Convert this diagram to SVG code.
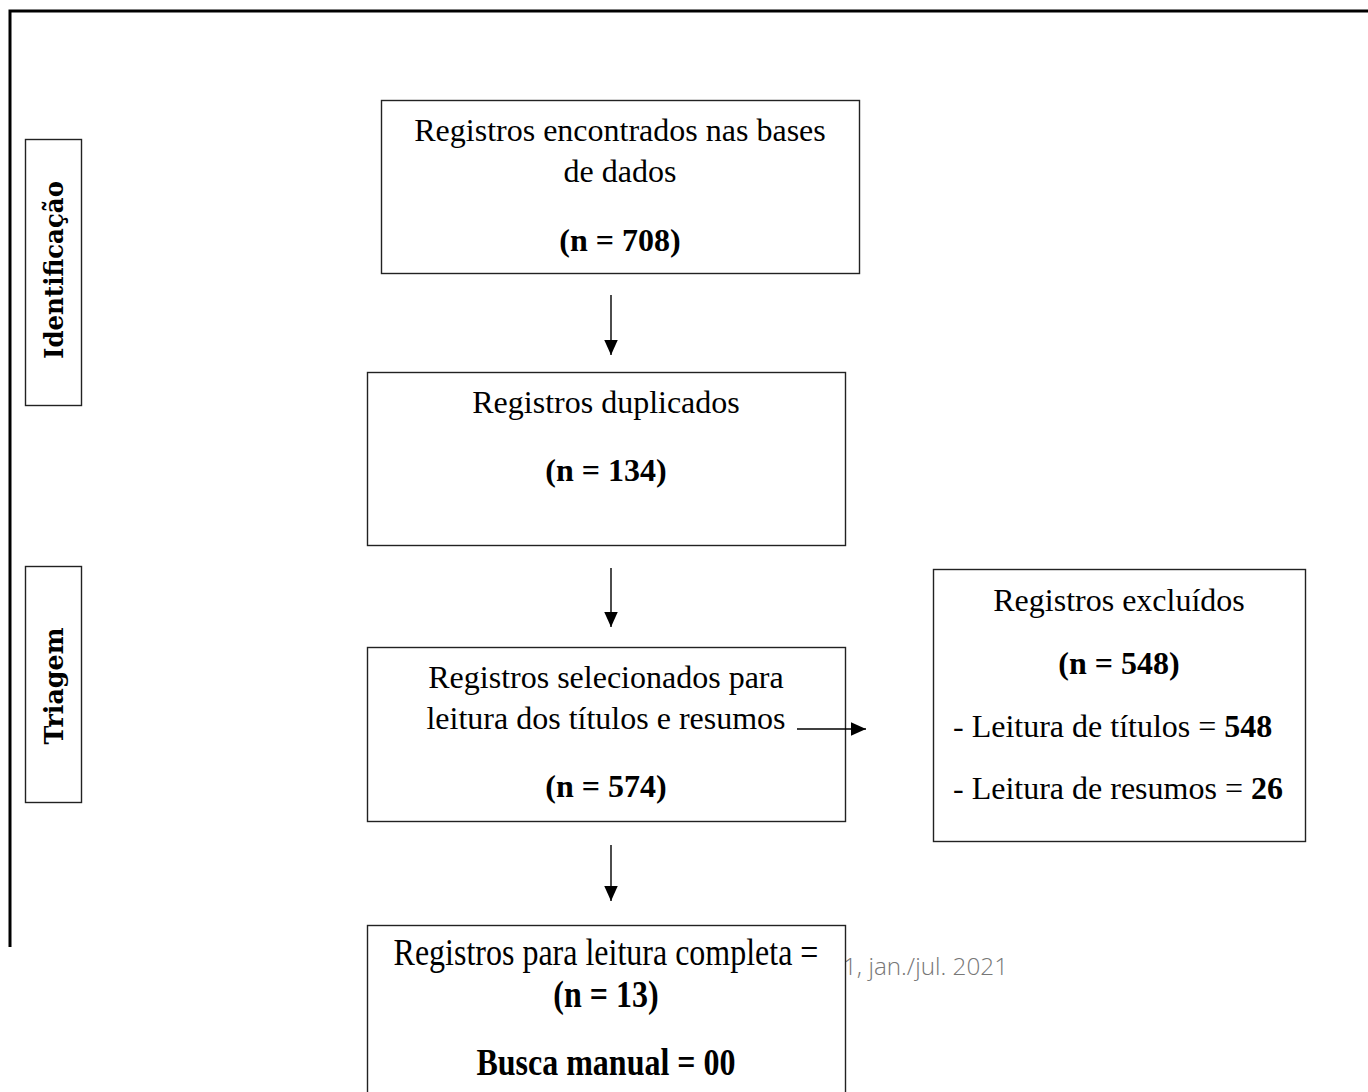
<svg xmlns="http://www.w3.org/2000/svg" width="1368" height="1092" viewBox="0 0 1368 1092">
<defs>
<style>
.box{fill:#fff;stroke:#222;stroke-width:1.4}
.t{font-family:"Liberation Serif","Times New Roman",serif;font-size:32px;fill:#000;text-anchor:middle}
.l{font-family:"Liberation Serif","Times New Roman",serif;font-size:32px;fill:#000}
.b{font-weight:bold}
.side{font-family:"DejaVu Serif",serif;font-weight:bold;font-size:26px;fill:#000;text-anchor:middle}
.conn{stroke:#000;stroke-width:1.4;fill:none}
</style>
<marker id="ah" viewBox="0 0 10 10" refX="10" refY="5" markerWidth="15" markerHeight="15" markerUnits="userSpaceOnUse" orient="auto">
<path d="M0,0.5 L10,5 L0,9.5 Z" fill="#000"/>
</marker>
</defs>
<rect width="1368" height="1092" fill="#fff"/>
<path d="M10,947 V11 H1368" fill="none" stroke="#000" stroke-width="3"/>
<text x="843" y="975" font-family="Open Sans, sans-serif" font-weight="300" font-size="23" fill="#777" textLength="165" lengthAdjust="spacingAndGlyphs">1, jan./jul. 2021</text>
<g id="identificacao">
<rect class="box" x="25.5" y="139.5" width="56" height="266"/>
<text class="side" transform="translate(63,270) rotate(-90)" textLength="178" lengthAdjust="spacingAndGlyphs">Identificação</text>
</g>
<g id="triagem">
<rect class="box" x="25.5" y="566.5" width="56" height="236"/>
<text class="side" transform="translate(63,686) rotate(-90)" textLength="117" lengthAdjust="spacingAndGlyphs">Triagem</text>
</g>
<g id="registros-encontrados">
<rect class="box" x="381.5" y="100.5" width="478" height="173"/>
<text class="t" x="620" y="141">Registros encontrados nas bases</text>
<text class="t" x="620" y="182">de dados</text>
<text class="t b" x="620" y="251">(n = 708)</text>
</g>
<g id="registros-duplicados">
<rect class="box" x="367.5" y="372.5" width="478" height="173"/>
<text class="t" x="606" y="413">Registros duplicados</text>
<text class="t b" x="606" y="481">(n = 134)</text>
</g>
<g id="registros-selecionados">
<rect class="box" x="367.5" y="647.5" width="478" height="174"/>
<text class="t" x="606" y="688">Registros selecionados para</text>
<text class="t" x="606" y="729">leitura dos títulos e resumos</text>
<text class="t b" x="606" y="797">(n = 574)</text>
</g>
<g id="registros-excluidos">
<rect class="box" x="933.5" y="569.5" width="372" height="272"/>
<text class="t" x="1119" y="611">Registros excluídos</text>
<text class="t b" x="1119" y="674">(n = 548)</text>
<text class="l" x="953" y="737">- Leitura de títulos = <tspan class="b">548</tspan></text>
<text class="l" x="953" y="799">- Leitura de resumos = <tspan class="b">26</tspan></text>
</g>
<g id="leitura-completa">
<rect class="box" x="367.5" y="925.5" width="478" height="180"/>
<text class="t" transform="translate(606,965) scale(1,1.2)">Registros para leitura completa =</text>
<text class="t b" transform="translate(606,1007) scale(1,1.2)">(n = 13)</text>
<text class="t b" transform="translate(606,1075) scale(1,1.2)">Busca manual = 00</text>
</g>
<g id="connectors">
<line class="conn" x1="611" y1="295" x2="611" y2="355" marker-end="url(#ah)"/>
<line class="conn" x1="611" y1="568" x2="611" y2="627" marker-end="url(#ah)"/>
<line class="conn" x1="797" y1="729" x2="866" y2="729" marker-end="url(#ah)"/>
<line class="conn" x1="611" y1="845" x2="611" y2="901" marker-end="url(#ah)"/>
</g>
</svg>
